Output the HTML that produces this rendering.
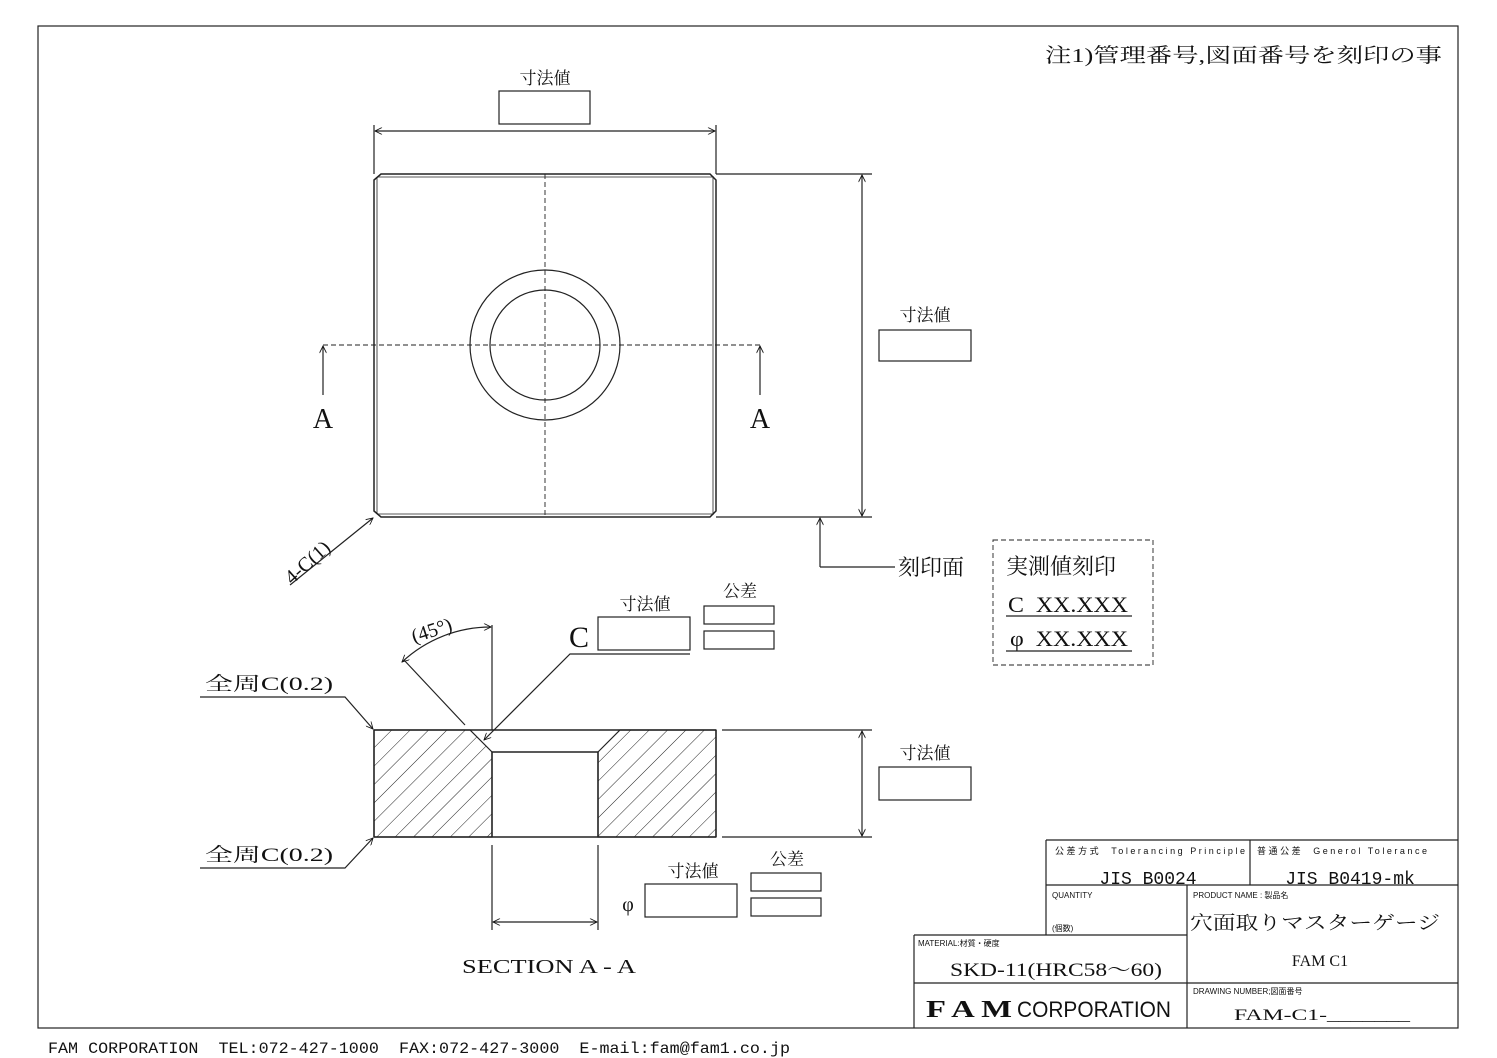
<!DOCTYPE html>
<html><head><meta charset="utf-8"><style>
html,body{margin:0;padding:0;background:#fff}
svg{display:block}
text{font-family:"Liberation Serif","Noto Serif CJK SC","Noto Sans CJK JP",serif;fill:#111;white-space:pre}
.s{font-family:"Liberation Sans","Noto Sans CJK JP",sans-serif}
.m{font-family:"Liberation Mono","Noto Sans CJK JP",monospace}
</style></head><body>
<svg width="1497" height="1058" viewBox="0 0 1497 1058" xmlns="http://www.w3.org/2000/svg" xml:space="preserve">
<defs>
<marker id="a" viewBox="0 0 10 10" refX="10" refY="5" markerWidth="16" markerHeight="7" orient="auto-start-reverse" markerUnits="userSpaceOnUse"><path d="M0,0 L10,5 L0,10" fill="none" stroke="#111" stroke-width="1.2"/></marker>
<pattern id="h" width="13" height="13" patternUnits="userSpaceOnUse" patternTransform="rotate(45)"><line x1="0" y1="0" x2="0" y2="13" stroke="#222" stroke-width="1"/></pattern>
</defs>
<g fill="none" stroke="#222" stroke-width="1.2">
<rect x="38" y="26" width="1420" height="1002"/>
<path d="M381,174 L710,174 L716,180 L716,511 L710,517 L381,517 L374,511 L374,180 Z" stroke-width="1.5"/>
<path d="M377,177 L714,177 M377,514 L714,514 M377,177 L377,514 M713,177 L713,514" stroke-width="0.8"/>
<circle cx="545" cy="345" r="75"/><circle cx="545" cy="345" r="55"/>
<line x1="545" y1="174" x2="545" y2="517" stroke-dasharray="5,3" stroke-width="0.9"/>
<line x1="323" y1="345" x2="760" y2="345" stroke-dasharray="5,3" stroke-width="0.9"/>
<line x1="323" y1="395" x2="323" y2="346" marker-end="url(#a)"/>
<line x1="760" y1="395" x2="760" y2="346" marker-end="url(#a)"/>
<line x1="374" y1="125" x2="374" y2="174"/><line x1="716" y1="125" x2="716" y2="174"/>
<line x1="375" y1="131" x2="715" y2="131" marker-start="url(#a)" marker-end="url(#a)"/>
<rect x="499" y="91" width="91" height="33"/>
<line x1="716" y1="174" x2="872" y2="174"/><line x1="716" y1="517" x2="872" y2="517"/>
<line x1="862" y1="175" x2="862" y2="516" marker-start="url(#a)" marker-end="url(#a)"/>
<rect x="879" y="330" width="92" height="31"/>
<line x1="290" y1="585" x2="373" y2="518" marker-end="url(#a)"/>
<path d="M820,567 L820,518" marker-end="url(#a)"/>
<path d="M820,567 L895,567"/>
<rect x="993" y="540" width="160" height="125" stroke-dasharray="5,3" stroke-width="0.9"/>
<line x1="1006" y1="616" x2="1132" y2="616"/><line x1="1006" y1="651" x2="1132" y2="651"/>
<path d="M374,730 L470,730 L492,752 L492,837 L374,837 Z" fill="url(#h)"/>
<path d="M598,752 L620,730 L716,730 L716,837 L598,837 Z" fill="url(#h)"/>
<path d="M374,730 L716,730 M374,837 L716,837 M374,730 L374,837 M716,730 L716,837 M492,752 L598,752 M492,752 L492,837 M598,752 L598,837" stroke-width="1.5"/>
<line x1="492" y1="625" x2="492" y2="730"/>
<line x1="465" y1="725" x2="404" y2="660"/>
<path d="M402,662 A130,130 0 0 1 491,627" marker-start="url(#a)" marker-end="url(#a)"/>
<path d="M690,654 L570,654 L484,740" marker-end="url(#a)"/>
<rect x="598" y="617" width="92" height="33"/>
<rect x="704" y="606" width="70" height="18"/><rect x="704" y="631" width="70" height="18"/>
<path d="M200,697 L345,697 L373,729" marker-end="url(#a)"/>
<path d="M200,868 L345,868 L373,838" marker-end="url(#a)"/>
<line x1="722" y1="730" x2="872" y2="730"/><line x1="722" y1="837" x2="872" y2="837"/>
<line x1="862" y1="731" x2="862" y2="836" marker-start="url(#a)" marker-end="url(#a)"/>
<rect x="879" y="767" width="92" height="33"/>
<line x1="492" y1="845" x2="492" y2="930"/><line x1="598" y1="845" x2="598" y2="930"/>
<line x1="493" y1="922" x2="597" y2="922" marker-start="url(#a)" marker-end="url(#a)"/>
<rect x="645" y="884" width="92" height="33"/>
<rect x="751" y="873" width="70" height="18"/><rect x="751" y="898" width="70" height="18"/>
<path d="M1046,840 L1458,840 M1046,840 L1046,935 M1250,840 L1250,885 M1046,885 L1458,885 M1187,885 L1187,1028 M914,935 L1187,935 M914,935 L914,1028 M914,983 L1458,983"/>
</g>
<g>
<text x="1045" y="62" font-size="20" textLength="397" lengthAdjust="spacingAndGlyphs">注1)管理番号,図面番号を刻印の事</text>
<text x="545" y="84" font-size="17" text-anchor="middle">寸法値</text>
<text x="925" y="321" font-size="17" text-anchor="middle">寸法値</text>
<text x="925" y="759" font-size="17" text-anchor="middle">寸法値</text>
<text x="645" y="610" font-size="17" text-anchor="middle">寸法値</text>
<text x="693" y="877" font-size="17" text-anchor="middle">寸法値</text>
<text x="740" y="597" font-size="17" text-anchor="middle">公差</text>
<text x="787" y="865" font-size="17" text-anchor="middle">公差</text>
<text x="323" y="428" font-size="28" text-anchor="middle">A</text>
<text x="760" y="428" font-size="28" text-anchor="middle">A</text>
<text x="0" y="0" font-size="20" transform="translate(292,585) rotate(-42)">4-C(1)</text>
<text x="898" y="575" font-size="22">刻印面</text>
<text x="1006" y="574" font-size="22">実測値刻印</text>
<text x="1008" y="612" font-size="22" textLength="120" lengthAdjust="spacingAndGlyphs">C  XX.XXX</text>
<text x="1010" y="646" font-size="22" textLength="118" lengthAdjust="spacingAndGlyphs">φ  XX.XXX</text>
<text x="579" y="647" font-size="30" text-anchor="middle">C</text>
<text x="0" y="0" font-size="20" transform="translate(414,643) rotate(-18)">(45°)</text>
<text x="205" y="690" font-size="19" textLength="128" lengthAdjust="spacingAndGlyphs">全周C(0.2)</text>
<text x="205" y="861" font-size="19" textLength="128" lengthAdjust="spacingAndGlyphs">全周C(0.2)</text>
<text x="628" y="911" font-size="20" text-anchor="middle">φ</text>
<text x="462" y="973" font-size="20" textLength="174" lengthAdjust="spacingAndGlyphs">SECTION A - A</text>
<text class="s" x="1055" y="854" font-size="9" textLength="190">公差方式  Tolerancing Principle</text>
<text class="s" x="1257" y="854" font-size="9" textLength="170">普通公差  Generol Tolerance</text>
<text class="m" x="1148" y="884" font-size="18" text-anchor="middle">JIS B0024</text>
<text class="m" x="1350" y="884" font-size="18" text-anchor="middle">JIS B0419-mk</text>
<text class="s" x="1052" y="898" font-size="8">QUANTITY</text>
<text class="s" x="1052" y="931" font-size="8">(個数)</text>
<text class="s" x="1193" y="898" font-size="8">PRODUCT NAME : 製品名</text>
<text x="1190" y="929" font-size="19" textLength="250" lengthAdjust="spacingAndGlyphs">穴面取りマスターゲージ</text>
<text x="1320" y="966" font-size="16" text-anchor="middle">FAM C1</text>
<text class="s" x="918" y="946" font-size="8">MATERIAL:材質・硬度</text>
<text x="950" y="976" font-size="19" textLength="212" lengthAdjust="spacingAndGlyphs">SKD-11(HRC58～60)</text>
<text x="926" y="1017" font-size="24" font-weight="bold" textLength="86" lengthAdjust="spacingAndGlyphs">F A M</text>
<text class="s" x="1017" y="1017" font-size="22" textLength="154" lengthAdjust="spacingAndGlyphs">CORPORATION</text>
<text class="s" x="1193" y="994" font-size="8">DRAWING NUMBER;図面番号</text>
<text x="1234" y="1020" font-size="16" textLength="176" lengthAdjust="spacingAndGlyphs">FAM-C1-_______</text>
<text class="m" x="48" y="1053" font-size="16" textLength="742" lengthAdjust="spacingAndGlyphs">FAM CORPORATION  TEL:072-427-1000  FAX:072-427-3000  E-mail:fam@fam1.co.jp</text>
</g>
</svg>
</body></html>
